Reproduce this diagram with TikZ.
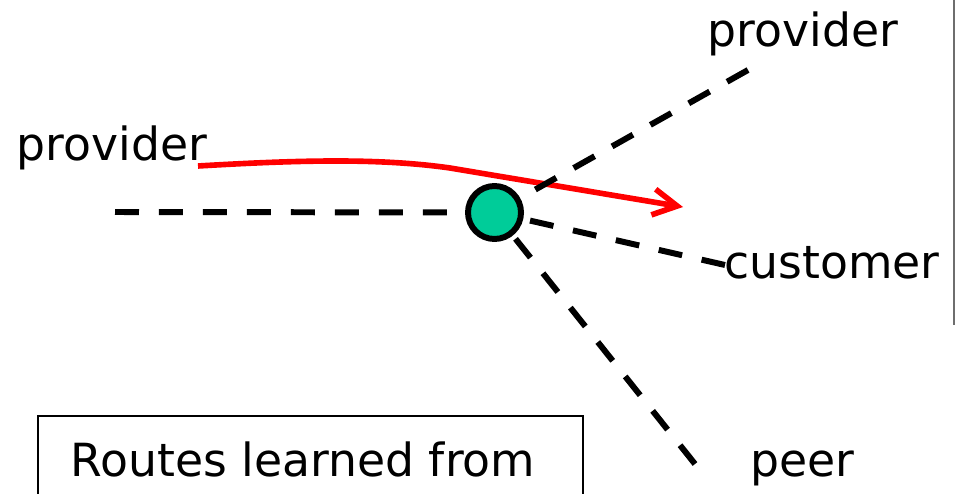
\documentclass[tikz,border=0pt]{standalone}
\usepackage{fontspec}
\setmainfont{DejaVu Sans}
\usetikzlibrary{arrows.meta}
\definecolor{ASGreen}{HTML}{00CC99}
\definecolor{ASRed}{HTML}{FF0000}
\definecolor{ASEdge}{HTML}{6E6E6E}
\tikzset{
  link/.style={black,line width=3.4pt,dash pattern=on 0.48cm off 0.4cm},
  route/.style={-{Straight Barb[length=0.48cm,width=0.52cm,line width=3.2pt]},ASRed,line width=3.2pt},
  asnode/.style={circle,draw=black,line width=3.4pt,fill=ASGreen,minimum size=1.06cm,inner sep=0pt},
  rel/.style={font=\fontsize{26}{30}\selectfont,inner sep=0pt,anchor=base},
  legendbox/.style={draw=black,line width=1.1pt},
  pageedge/.style={draw=ASEdge,line width=0.7pt},
}
\begin{document}
\begin{tikzpicture}[x=0.02cm,y=-0.02cm]
  \useasboundingbox (0,0) rectangle (955,493);
  \clip (0,0) rectangle (955,493);

  % route learned from the provider
  \coordinate (rin) at (198,166);
  \coordinate (rbend) at (450,168);
  \coordinate (rout) at (683,207);
  \draw[route] (rin) .. controls (300,160) and (380,158) .. (rbend) -- (rout);

  % the AS and its neighbours
  \node[asnode] (as) at (494.5,212.5) {};
  \coordinate (lprov) at (115,212);
  \coordinate (tprov) at (748,70);
  \coordinate (cust) at (725,265);
  \coordinate (peerend) at (695,464);
  \draw[link] (lprov) -- (as);
  \draw[link] (tprov) -- (as);
  \draw[link] (cust) -- (as);
  \draw[link] (peerend) -- (as);

  \node[rel] (lprovtxt) at (112,160) {provider};
  \node[rel] (tprovtxt) at (803,47) {provider};
  \node[rel] (custtxt) at (832,278) {customer};
  \node[rel] (peertxt) at (802,476) {peer};

  % legend box, cut by the page
  \draw[legendbox] (38,416) rectangle (583,540);
  \node[rel] (lgd) at (303,476) {Routes learned from};

  \draw[pageedge] (954,0) -- (954,325);
\end{tikzpicture}
\end{document}
